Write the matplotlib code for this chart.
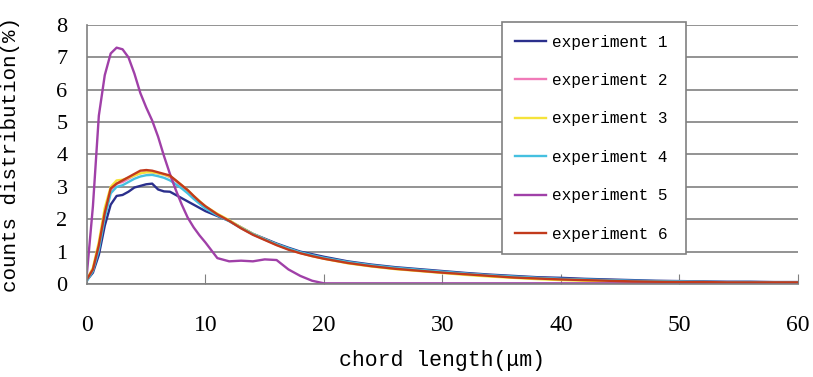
import numpy as np
import matplotlib
matplotlib.use("Agg")
import matplotlib.pyplot as plt

# chord length grid (um)
chord = [0, 0.5, 1, 1.5, 2, 2.5, 3, 3.5, 4, 4.5, 5, 5.5, 6, 6.5, 7, 7.5, 8, 8.5, 9, 9.5,
         10, 11, 12, 13, 14, 15, 16, 17, 18, 19, 20, 22, 24, 26, 28, 30, 32, 34, 36, 38,
         40, 42, 44, 46, 48, 50, 52, 54, 56, 58, 60]

exp1 = [0.12, 0.35, 0.9, 1.8, 2.45, 2.72, 2.75, 2.85, 2.98, 3.03, 3.08, 3.1, 2.92, 2.86, 2.85, 2.75, 2.65, 2.55, 2.45, 2.35,
        2.25, 2.1, 1.95, 1.75, 1.55, 1.4, 1.25, 1.12, 1.0, 0.92, 0.84, 0.7, 0.6, 0.52, 0.46, 0.4, 0.34, 0.29, 0.25, 0.21,
        0.19, 0.16, 0.14, 0.12, 0.1, 0.09, 0.08, 0.07, 0.07, 0.06, 0.06]
exp2 = [0.15, 0.45, 1.15, 2.15, 2.9, 3.1, 3.15, 3.25, 3.35, 3.42, 3.46, 3.45, 3.42, 3.38, 3.3, 3.18, 3.02, 2.88, 2.7, 2.53,
        2.38, 2.15, 1.95, 1.73, 1.53, 1.37, 1.21, 1.08, 0.96, 0.87, 0.79, 0.66, 0.56, 0.48, 0.42, 0.36, 0.31, 0.26, 0.21, 0.18,
        0.15, 0.12, 0.1, 0.09, 0.08, 0.07, 0.06, 0.06, 0.05, 0.05, 0.05]
exp3 = [0.15, 0.5, 1.3, 2.35, 3.0, 3.2, 3.22, 3.28, 3.35, 3.42, 3.45, 3.45, 3.42, 3.38, 3.32, 3.2, 3.05, 2.9, 2.72, 2.56,
        2.4, 2.17, 1.97, 1.75, 1.55, 1.38, 1.22, 1.08, 0.96, 0.86, 0.78, 0.64, 0.54, 0.46, 0.4, 0.34, 0.28, 0.23, 0.19, 0.15,
        0.12, 0.1, 0.08, 0.07, 0.06, 0.05, 0.05, 0.04, 0.04, 0.04, 0.04]
exp4 = [0.1, 0.4, 1.05, 2.05, 2.8, 3.0, 3.05, 3.15, 3.25, 3.32, 3.36, 3.37, 3.33, 3.28, 3.2, 3.08, 2.95, 2.8, 2.63, 2.48,
        2.33, 2.12, 1.94, 1.73, 1.54, 1.38, 1.23, 1.1, 0.98, 0.89, 0.81, 0.68, 0.58, 0.5, 0.44, 0.38, 0.32, 0.27, 0.23, 0.19,
        0.16, 0.14, 0.12, 0.1, 0.09, 0.08, 0.07, 0.06, 0.06, 0.05, 0.05]
exp5 = [0.35, 2.4, 5.2, 6.45, 7.12, 7.3, 7.25, 7.0, 6.5, 5.9, 5.45, 5.05, 4.55, 3.95, 3.4, 2.9, 2.45, 2.05, 1.75, 1.5,
        1.28, 0.8, 0.7, 0.72, 0.7, 0.76, 0.74, 0.45, 0.25, 0.1, 0.02, 0.02, 0.02, 0.02, 0.02, 0.02, 0.02, 0.02, 0.02, 0.02,
        0.02, 0.02, 0.02, 0.02, 0.02, 0.02, 0.02, 0.02, 0.02, 0.02, 0.02]
exp6 = [0.15, 0.45, 1.2, 2.2, 2.95, 3.1, 3.2, 3.3, 3.4, 3.5, 3.52, 3.5, 3.45, 3.4, 3.35, 3.2, 3.05, 2.9, 2.72, 2.55,
        2.4, 2.15, 1.95, 1.72, 1.52, 1.36, 1.2, 1.06, 0.95, 0.86, 0.78, 0.65, 0.55, 0.47, 0.41, 0.35, 0.3, 0.25, 0.2, 0.17,
        0.14, 0.12, 0.1, 0.08, 0.07, 0.06, 0.06, 0.05, 0.05, 0.05, 0.05]

labels = ['experiment 1', 'experiment 2', 'experiment 3', 'experiment 4', 'experiment 5', 'experiment 6']
colors = ['#2b2f8c', '#f07ab8', '#f5e33a', '#45c0e0', '#a040a8', '#c23a1c']
series = [exp1, exp2, exp3, exp4, exp5, exp6]

fig = plt.figure(figsize=(8.13, 3.77), dpi=100)
ax = fig.add_axes([0.107, 0.2467, 0.8745, 0.687])

for ys, lab, c in zip(series, labels, colors):
    ax.plot(chord, ys, color=c, lw=1.7, label=lab)

ax.set_xlim(0, 60)
ax.set_ylim(0, 8)
ax.set_xticks(np.arange(0, 61, 10))
ax.set_yticks(np.arange(0, 9, 1))
ax.yaxis.grid(True, color='#808080', lw=1.2)
ax.set_axisbelow(True)

for s in ['top', 'right']:
    ax.spines[s].set_visible(False)
for s in ['left', 'bottom']:
    ax.spines[s].set_color('#808080')
    ax.spines[s].set_linewidth(1.2)

ax.tick_params(axis='x', direction='in', length=7, color='#808080', pad=22)
ax.tick_params(axis='y', length=0, pad=14)
for t in ax.get_xticklabels():
    t.set_fontfamily('Liberation Serif')
    t.set_fontsize(17)
for t in ax.get_yticklabels():
    t.set_fontfamily('Liberation Serif')
    t.set_fontsize(16)

ax.set_xlabel('chord length(\u03bcm)', fontfamily='Liberation Mono', fontsize=15.5)
ax.xaxis.set_label_coords(0.499, -0.255)
ax.set_ylabel('counts distribution(%)', fontfamily='Liberation Mono', fontsize=15)
ax.yaxis.set_label_coords(-0.094, 0.5)

leg = ax.legend(loc='upper left', bbox_to_anchor=(0.584, 0.12, 0.258, 0.892), mode='expand',
                prop={'family': 'Liberation Mono', 'size': 11.6}, frameon=True, fancybox=False,
                edgecolor='#808080', framealpha=1, handlelength=1.9, handletextpad=0.4,
                labelspacing=1.45, borderpad=0.8, borderaxespad=0)
leg.get_frame().set_linewidth(1.2)

fig.savefig('out.png', dpi=100)
